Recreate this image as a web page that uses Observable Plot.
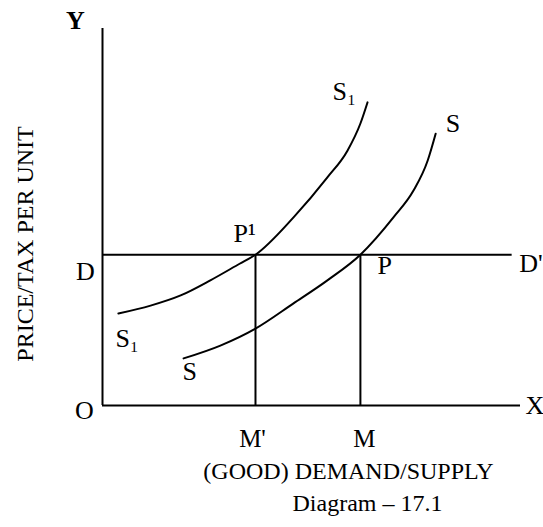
<!DOCTYPE html>
<html>
<head>
<meta charset="utf-8">
<script src="https://cdn.jsdelivr.net/npm/d3@7"></script>
<script src="https://cdn.jsdelivr.net/npm/@observablehq/plot@0.6"></script>
<style>
  html, body { margin: 0; padding: 0; background: #fff; }
  #chart svg { display: block; }
</style>
</head>
<body>
<div id="chart"></div>
<script>
// Quantity (x) and price (y) on a 0–100 scale
const supplyTaxQ = [3.8, 11.5, 18.7, 25.8, 32.8, 36.6, 45.7, 53.8, 58.6, 61.7, 63.4];
const supplyTaxP = [24.4, 26.5, 29.2, 33.2, 37.6, 40.0, 49.9, 60.5, 67.6, 74.8, 80.4];
const supplyQ = [19.4, 28.2, 36.6, 45.7, 53.8, 61.7, 69.6, 74.4, 77.8, 79.7];
const supplyP = [12.5, 15.9, 20.4, 27.1, 33.2, 40.0, 49.9, 57.0, 65.0, 72.1];
const priceD = 40;          // price level D–D'
const demandEnd = 98;       // end of the D–D' line
const qMPrime = 36.6;       // M'
const qM = 61.7;            // M
const axisMax = 100;

const supplyTax = supplyTaxQ.map((q, i) => ({q, p: supplyTaxP[i]}));
const supply = supplyQ.map((q, i) => ({q, p: supplyP[i]}));

const font = "'Liberation Serif', 'Times New Roman', serif";
const lab = 26;

const chart = Plot.plot({
  width: 543,
  height: 527,
  marginLeft: 102,
  marginRight: 23,
  marginTop: 28,
  marginBottom: 122,
  x: {domain: [0, axisMax], axis: null},
  y: {domain: [0, axisMax], axis: null},
  style: {fontFamily: font, background: "#fff", color: "#000"},
  marks: [
    // axes
    Plot.ruleX([0], {y1: 0, y2: axisMax, stroke: "#000", strokeWidth: 2}),
    Plot.ruleY([0], {x1: 0, x2: axisMax, stroke: "#000", strokeWidth: 2}),
    // price line D–D'
    Plot.ruleY([priceD], {x1: 0, x2: demandEnd, stroke: "#000", strokeWidth: 2}),
    // verticals at M' and M
    Plot.ruleX([qMPrime, qM], {y1: 0, y2: priceD, stroke: "#000", strokeWidth: 2}),
    // supply curves
    Plot.line(supplyTax, {x: "q", y: "p", curve: "monotone-x", stroke: "#000", strokeWidth: 2}),
    Plot.line(supply, {x: "q", y: "p", curve: "monotone-x", stroke: "#000", strokeWidth: 2}),
    // axis letters
    Plot.text(["Y"], {x: 0, y: axisMax, dx: -27, dy: -8, fontSize: lab, fontFamily: font, fontWeight: "bold"}),
    Plot.text(["X"], {x: axisMax, y: 0, dx: 5, dy: 0, textAnchor: "start", fontSize: lab, fontFamily: font}),
    Plot.text(["O"], {x: 0, y: 0, dx: -18, dy: 5, fontSize: lab, fontFamily: font}),
    Plot.text(["D"], {x: 0, y: priceD, dx: -17, dy: 17, fontSize: lab, fontFamily: font}),
    Plot.text(["D'"], {x: demandEnd, y: priceD, dx: 7, dy: 9, textAnchor: "start", fontSize: lab, fontFamily: font}),
    Plot.text(["P¹"], {x: qMPrime, y: priceD, dx: -22, dy: -21, textAnchor: "start", fontSize: lab, fontFamily: font}),
    Plot.text(["P"], {x: qM, y: priceD, dx: 17, dy: 11, textAnchor: "start", fontSize: lab, fontFamily: font}),
    Plot.text(["M'"], {x: qMPrime, y: 0, dx: -3, dy: 33, fontSize: 25, fontFamily: font}),
    Plot.text(["M"], {x: qM, y: 0, dx: 4, dy: 33, fontSize: 25, fontFamily: font}),
    // curve labels
    Plot.text([supplyTax[supplyTax.length - 1]], {x: "q", y: "p", text: () => "S₁", dx: -35, dy: -11, textAnchor: "start", fontSize: lab, fontFamily: font}),
    Plot.text([supply[supply.length - 1]], {x: "q", y: "p", text: () => "S", dx: 10, dy: -10, textAnchor: "start", fontSize: lab, fontFamily: font}),
    Plot.text([supplyTax[0]], {x: "q", y: "p", text: () => "S₁", dx: -3, dy: 25, textAnchor: "start", fontSize: lab, fontFamily: font}),
    Plot.text([supply[0]], {x: "q", y: "p", text: () => "S", dx: -1, dy: 13, textAnchor: "start", fontSize: lab, fontFamily: font}),
    // axis titles and caption
    Plot.text(["PRICE/TAX PER UNIT"], {frameAnchor: "left", textAnchor: "middle", lineAnchor: "middle", dx: -77, dy: 27, rotate: -90, fontSize: 24, fontFamily: font}),
    Plot.text(["(GOOD) DEMAND/SUPPLY"], {frameAnchor: "bottom", textAnchor: "middle", lineAnchor: "middle", dx: 37, dy: 66, fontSize: 24, fontFamily: font}),
    Plot.text(["Diagram – 17.1"], {frameAnchor: "bottom", textAnchor: "middle", lineAnchor: "middle", dx: 56, dy: 98, fontSize: 24, fontFamily: font})
  ]
});
document.getElementById("chart").append(chart);
</script>
</body>
</html>
